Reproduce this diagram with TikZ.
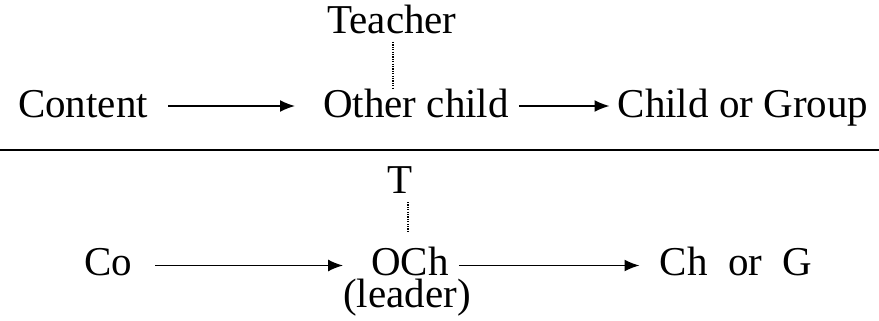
\documentclass[tikz,border=0pt]{standalone}
\usepackage{fontspec}
\setmainfont{Liberation Serif}
\usetikzlibrary{positioning, arrows.meta}

\tikzset{
  word/.style={font=\fontsize{41}{49}\selectfont, inner sep=0pt,
               text height=23pt, text depth=4pt},
  flow/.style={line width=1.7pt, -{Latex[length=15pt,width=12pt]}},
  leash/.style={line width=1.2pt, dash pattern=on 1.2pt off 1.2pt},
  rule/.style={line width=1.5pt}
}

\begin{document}
\begin{tikzpicture}[x=1pt, y=-1pt, node distance=3cm, on grid]
   \useasboundingbox (0,0) rectangle (879,321);

   % full names
   \node[word] (content) at (83,108) {Content};
   \node[word] (other) [right=333pt of content] {Other child};
   \node[word] (child) [right=327pt of other] {Child or Group};
   \node[word] (teacher) [above left=83.5pt and 24pt of other] {Teacher};

   \draw[flow] ([shift={(20pt,2pt)}]content.east) -- ([shift={(-28pt,2pt)}]other.west);
   \draw[flow] ([shift={(10pt,2pt)}]other.east) -- ([shift={(-8pt,2pt)}]child.west);
   \draw[leash] ([shift={(1pt,-17.5pt)}]teacher.center) -- ([shift={(-23pt,20pt)}]other.center);

   \draw[rule] (0,150) -- (879,150);

   % short forms
   \node[word] (co) at (108,265.5) {Co};
   \node[word] (och) [right=302pt of co] {OCh};
   \node[word] (chg) [right=326pt of och] {Ch~ or~ G};
   \node[word] (t) [above left=82pt and 10pt of och] {T};
   \node[word] (leader) [below left=32pt and 3pt of och] {(leader)};

   \draw[flow] ([xshift=23pt]co.east) -- ([xshift=-28pt]och.west);
   \draw[flow] ([xshift=10pt]och.east) -- ([xshift=-20pt]chg.west);
   \draw[leash] ([shift={(8pt,-18.5pt)}]t.center) -- ([shift={(-2pt,32.5pt)}]och.center);
\end{tikzpicture}
\end{document}
